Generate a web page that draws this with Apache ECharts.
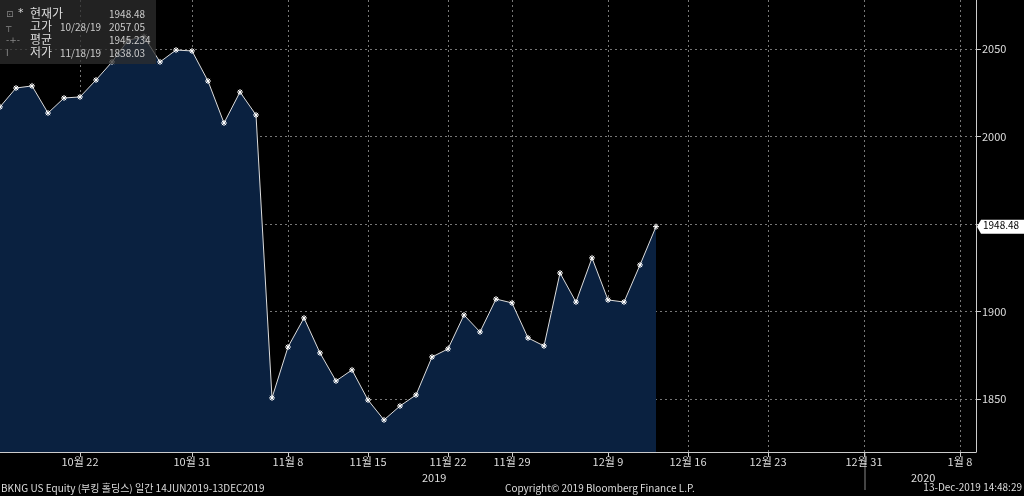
<!DOCTYPE html>
<html><head><meta charset="utf-8">
<script src="https://cdn.jsdelivr.net/npm/echarts@6/dist/echarts.min.js"></script>
<style>html,body{margin:0;background:#000}#c{width:1024px;height:496px}</style>
</head><body><div id="c"></div>
<script>
// 거래일 (10/15/2019 ~ 12/13/2019) + 빈 미래 구간
var dates = ['10/15','10/16','10/17','10/18','10/21','10/22','10/23','10/24','10/25','10/28',
  '10/29','10/30','10/31','11/1','11/4','11/5','11/6','11/7','11/8','11/11','11/12','11/13','11/14',
  '11/15','11/18','11/19','11/20','11/21','11/22','11/25','11/26','11/27','11/29','12/2','12/3',
  '12/4','12/5','12/6','12/9','12/10','12/11','12/12','12/13','12/16','12/17','12/18','12/19','12/20',
  '12/23','12/24','12/26','12/27','12/30','12/31','1/2','1/3','1/6','1/7','1/8','1/9','1/10','1/13'];
var prices = [2016.9,2027.7,2028.9,2013.4,2022,2022.6,2032.3,2042.6,2055,2057.05,
  2042.6,2049.4,2048.9,2031.7,2007.7,2025.4,2012.3,1850.6,1879.7,1896.3,1876.3,1860.3,1866.6,
  1849.4,1838.03,1846,1852.3,1874,1878.6,1898,1888.3,1907.1,1904.9,1884.9,1880.3,1922,1905.4,
  1930.6,1906.6,1905.4,1926.6,1948.48];
var tickIdx = {5:'10월 22',12:'10월 31',18:'11월 8',23:'11월 15',28:'11월 22',32:'11월 29',
  38:'12월 9',43:'12월 16',48:'12월 23',54:'12월 31',60:'1월 8'};
var yTicks = [1850,1900,2000,2050];
var yGrid = [1850,1900,1950,2000,2050];
var lastPrice = 1948.48;

var chart = echarts.init(document.getElementById('c'));
var F = 'Noto Sans CJK KR';
var star = 'path://M5,0L5,10M0,5L10,5M1.5,1.5L8.5,8.5M8.5,1.5L1.5,8.5';
function isTick(i) { return tickIdx[i] !== undefined; }
var txt = function (left, top, text, font, fill) {
  return {type: 'text', left: left, top: top, z: 100,
    style: {text: text, fill: fill || '#ddd', font: font, lineHeight: 13}};
};
chart.setOption({
  backgroundColor: '#000',
  animation: false,
  grid: {left: 0, right: 48, top: 0, bottom: 44},
  xAxis: {
    type: 'category', data: dates, boundaryGap: false,
    axisLine: {lineStyle: {color: '#ccc'}},
    axisTick: {interval: isTick, lineStyle: {color: '#ccc'}},
    axisLabel: {interval: isTick,
      formatter: function (v, i) { return tickIdx[i] || ''; },
      color: '#ddd', fontSize: 11, fontFamily: F, margin: 4},
    splitLine: {show: true, interval: isTick, lineStyle: {color: '#777', type: [2, 3]}}
  },
  yAxis: {
    type: 'value', position: 'right', min: 1819.7, max: 2078,
    axisLine: {show: true, lineStyle: {color: '#ccc'}},
    axisTick: {show: true, customValues: yGrid, lineStyle: {color: '#ccc'}},
    axisLabel: {customValues: yTicks, formatter: function (v) { return String(v); },
      color: '#ddd', fontSize: 11, fontFamily: F, margin: 6},
    splitLine: {show: true, lineStyle: {color: '#777', type: [2, 3]}}
  },
  series: [{
    type: 'line', data: prices,
    symbol: star, symbolSize: 6,
    lineStyle: {color: '#ddd', width: 1},
    itemStyle: {color: '#fff', borderColor: '#fff', borderWidth: 1},
    areaStyle: {color: '#0a2140', opacity: 1}
  }]
});

var py = chart.convertToPixel({yAxisIndex: 0}, lastPrice);
chart.setOption({
  graphic: [
    {type: 'rect', left: 0, top: 0, z: 99, shape: {width: 156, height: 64}, style: {fill: 'rgba(45,45,45,0.75)'}},
    txt(6, 8, '⊡\n┬\n-+-\nI', '9px "DejaVu Sans"', '#888'),
    txt(18, 7, '*', '11px "DejaVu Sans"', '#ddd'),
    txt(30, 7, '현재가\n고가\n평균\n저가', '12px "Noto Sans CJK KR"'),
    txt(60, 8, '\n10/28/19\n\n11/18/19', '10px "Noto Sans CJK KR"', '#ccc'),
    txt(109, 8, '1948.48\n2057.05\n1945.234\n1838.03', '10px "Noto Sans CJK KR"', '#ccc'),
    {type: 'polygon', z: 100, shape: {points: [[977, py], [981, py - 7], [1024, py - 7], [1024, py + 7], [981, py + 7]]}, style: {fill: '#fff'}},
    {type: 'text', left: 983, top: py - 6, z: 101, style: {text: String(lastPrice), fill: '#000', font: '10px "Noto Sans CJK KR"'}},
    {type: 'line', shape: {x1: 865, y1: 452, x2: 865, y2: 490}, style: {stroke: '#888'}},
    txt(422, 471, '2019', '11px "Noto Sans CJK KR"'),
    txt(911, 471, '2020', '11px "Noto Sans CJK KR"'),
    txt(1, 482, 'BKNG US Equity (부킹 홀딩스) 일간 14JUN2019-13DEC2019', '10px "Noto Sans CJK KR"'),
    txt(505, 482, 'Copyright© 2019 Bloomberg Finance L.P.', '10px "Noto Sans CJK KR"'),
    {type: 'text', right: 2, top: 482, style: {text: '13-Dec-2019 14:48:29', fill: '#ddd', font: '10px "Noto Sans CJK KR"'}}
  ]
});
</script></body></html>
